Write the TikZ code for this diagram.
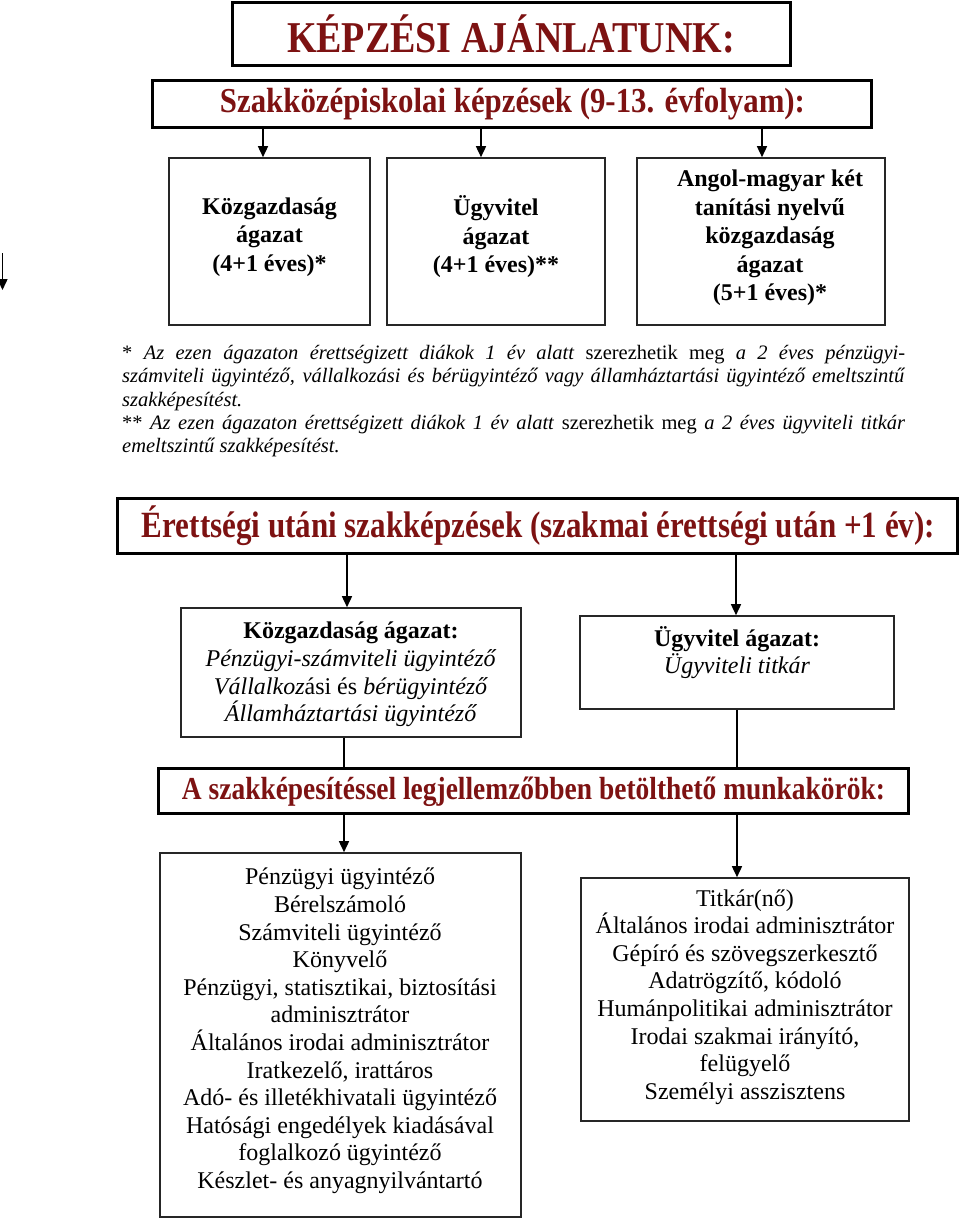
\documentclass[tikz,border=0pt]{standalone}
\usepackage{fontspec}
\setmainfont{Liberation Serif}
\usepackage{graphicx}
\usetikzlibrary{arrows.meta}
\definecolor{dred}{RGB}{125,18,18}
\tikzset{
  thickbox/.style={draw=black, line width=3pt, inner sep=0pt},
  thinbox/.style={draw=black!85, line width=1.6pt, inner sep=0pt},
  arr/.style={line width=1.5pt, -{Triangle[length=11pt,width=10pt]}},
  conn/.style={line width=1.5pt},
  head/.style={text=dred, font=\bfseries, inner sep=0pt},
  btxt/.style={align=center, font=\fontsize{24}{28.5}\selectfont\bfseries, inner sep=0pt},
  rtxt/.style={align=center, font=\fontsize{24}{27.6}\selectfont, inner sep=0pt},
}
\begin{document}
\begin{tikzpicture}[x=1pt,y=-1pt]
\useasboundingbox (0,0) rectangle (960,1218);
% title
\node[thickbox, minimum width=558pt, minimum height=63pt] (T) at (511,33.5) {};
\node[head] (Tt) at (511,34) {\resizebox{448pt}{\height}{\fontsize{44}{50}\selectfont\bfseries KÉPZÉSI AJÁNLATUNK:}};
% szakközépiskolai
\node[thickbox, minimum width=719pt, minimum height=47pt] (S) at (511.5,103.5) {};
\node[head] (St) at (512.5,104) {\resizebox{585pt}{\height}{\fontsize{35}{40}\selectfont\bfseries Szakközépiskolai képzések (9-13. évfolyam):}};
% three boxes
\node[thinbox, minimum width=201pt, minimum height=167pt] (A) at (269.5,241.5) {};
\node[btxt] (At) at (269.5,237) {Közgazdaság\\ágazat\\(4+1 éves)*};
\node[thinbox, minimum width=218pt, minimum height=167pt] (B) at (496,241.5) {};
\node[btxt] (Bt) at (496,237) {Ügyvitel\\ágazat\\(4+1 éves)**};
\node[thinbox, minimum width=248pt, minimum height=167pt] (C) at (761,241.5) {};
\node[btxt] (Ct) at (770,238) {Angol-magyar két\\tanítási nyelvű\\közgazdaság\\ágazat\\(5+1 éves)*};
\coordinate (xa) at (263,0);
\coordinate (xb) at (481,0);
\coordinate (xc) at (762,0);
\draw[arr] (S.south -| xa) -- (A.north -| xa);
\draw[arr] (S.south -| xb) -- (B.north -| xb);
\draw[arr] (S.south -| xc) -- (C.north -| xc);
% left fragment
\coordinate (L1) at (2.5,253);
\coordinate (L2) at (2.5,290);
\draw[arr] (L1) -- (L2);
% footnotes
\node[anchor=north west, inner sep=0pt] (fn) at (122,345) {\parbox{783pt}{\fontsize{20.5}{23.3}\selectfont\parindent=0pt
\makebox[783pt][s]{* \textit{Az ezen ágazaton érettségizett diákok 1 év alatt} szerezhetik meg \textit{a 2 éves pénzügyi-}}\\
\makebox[783pt][s]{\textit{számviteli ügyintéző, vállalkozási és bérügyintéző vagy államháztartási ügyintéző emeltszintű}}\\
\textit{szakképesítést.}\\
\makebox[783pt][s]{** \textit{Az ezen ágazaton érettségizett diákok 1 év alatt} szerezhetik meg \textit{a 2 éves ügyviteli titkár}}\\
\textit{emeltszintű szakképesítést.}}};
% érettségi utáni
\node[thickbox, minimum width=840pt, minimum height=55pt] (E) at (537,525.5) {};
\node[head] (Et) at (538.5,526) {\resizebox{793pt}{\height}{\fontsize{37}{42}\selectfont\bfseries Érettségi utáni szakképzések (szakmai érettségi után +1 év):}};
\node[thinbox, minimum width=340pt, minimum height=129pt] (D) at (351,672.5) {};
\node[rtxt] (Dt) at (351,674.5) {\textbf{Közgazdaság ágazat:}\\\textit{Pénzügyi-számviteli ügyintéző}\\\textit{Vállalkoz}ási és \textit{bérügyintéző}\\\textit{Államháztartási ügyintéző}};
\node[thinbox, minimum width=314pt, minimum height=93pt] (U) at (737,662.5) {};
\node[rtxt] (Ut) at (737,652.5) {\textbf{Ügyvitel ágazat:}\\\textit{Ügyviteli titkár}};
\coordinate (xd) at (347,0);
\coordinate (xe) at (736,0);
\draw[arr] (E.south -| xd) -- (D.north -| xd);
\draw[arr] (E.south -| xe) -- (U.north -| xe);
% munkakörök
\node[thickbox, minimum width=750pt, minimum height=45pt] (F) at (533,790.5) {};
\node[head] (Ft) at (533.5,792) {\resizebox{703pt}{\height}{\fontsize{32}{36}\selectfont\bfseries A szakképesítéssel legjellemzőbben betölthető munkakörök:}};
\coordinate (xf) at (344,0);
\coordinate (xg) at (737,0);
\draw[conn] (D.south -| xf) -- (F.north -| xf);
\draw[conn] (U.south -| xg) -- (F.north -| xg);
\node[thinbox, minimum width=361pt, minimum height=364pt] (G) at (340.5,1035) {};
\node[rtxt] (Gt) at (340,1031) {Pénzügyi ügyintéző\\Bérelszámoló\\Számviteli ügyintéző\\Könyvelő\\Pénzügyi, statisztikai, biztosítási\\adminisztrátor\\Általános irodai adminisztrátor\\Iratkezelő, irattáros\\Adó- és illetékhivatali ügyintéző\\Hatósági engedélyek kiadásával\\foglalkozó ügyintéző\\Készlet- és anyagnyilvántartó};
\node[thinbox, minimum width=328pt, minimum height=243pt] (H) at (745,999.5) {};
\node[rtxt] (Ht) at (745,997) {Titkár(nő)\\Általános irodai adminisztrátor\\Gépíró és szövegszerkesztő\\Adatrögzítő, kódoló\\Humánpolitikai adminisztrátor\\Irodai szakmai irányító,\\felügyelő\\Személyi asszisztens};
\draw[arr] (F.south -| xf) -- (G.north -| xf);
\draw[arr] (F.south -| xg) -- (H.north -| xg);
\end{tikzpicture}
\end{document}
